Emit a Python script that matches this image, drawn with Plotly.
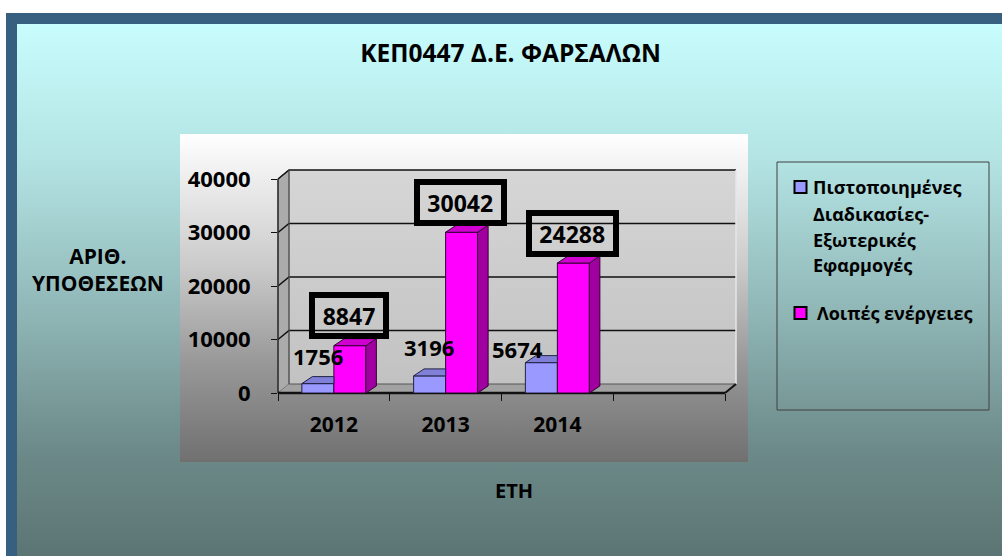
import plotly.graph_objects as go

# ---------------- data ----------------
categories = ["2012", "2013", "2014", ""]
series_names = ["Πιστοποιημένες Διαδικασίες-Εξωτερικές Εφαρμογές", "Λοιπές ενέργειες"]
legend_lines = [["Πιστοποιημένες", "Διαδικασίες-", "Εξωτερικές", "Εφαρμογές"],
                ["Λοιπές ενέργειες"]]
blue_values = [1756, 3196, 5674]
magenta_values = [8847, 30042, 24288]
y_ticks = [0, 10000, 20000, 30000, 40000]
y_tick_labels = ["0", "10000", "20000", "30000", "40000"]
title_text = "ΚΕΠ0447 Δ.Ε. ΦΑΡΣΑΛΩΝ"
y_title = "ΑΡΙΘ.<br>ΥΠΟΘΕΣΕΩΝ"
x_title = "ΕΤΗ"

# ---------------- geometry / style ----------------
W, H = 1002, 556
X0, UX = 278.0, 111.75          # px of x=0, px per category slot
Y0, UY = 393.0, 214.0 / 40000   # px of y=0, px per unit
FONT = "Open Sans"
WALL_DX_PX, WALL_DY_PX = 11.0, 9.0
BAR_DX_PX, BAR_DY_PX = 10.5, 7.0
BAR_W = 32.0 / UX

def dxv(px):
    return (px - X0) / UX

def dyv(px):
    return (Y0 - px) / UY

def fx(px):
    return px / W

def fy(px):
    return 1 - px / H

wdx, wdy = WALL_DX_PX / UX, WALL_DY_PX / UY
bdx, bdy = BAR_DX_PX / UX, BAR_DY_PX / UY
nslots = len(categories)
ymax = y_ticks[-1]

fig = go.Figure()

def poly(xs, ys, fill, line_color=None, lw=0, axes=("x", "y"), grad=None):
    kw = {}
    if grad is not None:
        kw["fillgradient"] = grad
    else:
        kw["fillcolor"] = fill
    fig.add_trace(go.Scatter(
        x=list(xs) + [xs[0]], y=list(ys) + [ys[0]], mode="lines", fill="toself",
        line=dict(color=line_color or "rgba(0,0,0,0)", width=lw),
        hoverinfo="skip", showlegend=False, xaxis=axes[0], yaxis=axes[1], **kw))

def line(xs, ys, color, lw, axes=("x", "y")):
    fig.add_trace(go.Scatter(
        x=xs, y=ys, mode="lines", line=dict(color=color, width=lw),
        hoverinfo="skip", showlegend=False, xaxis=axes[0], yaxis=axes[1]))

def rect_px(l, t, r, b, fill=None, grad=None):
    poly([dxv(l), dxv(r), dxv(r), dxv(l)], [dyv(t), dyv(t), dyv(b), dyv(b)], fill, grad=grad)

# outer frame + backgrounds
rect_px(6, 13, W + 2, H + 2, fill="#365f80")
rect_px(17, 24, W + 2, H + 2, grad=dict(
    type="vertical", start=dyv(H), stop=dyv(24),
    colorscale=[[0, "#5c7574"], [0.2, "#6c8a89"], [0.45, "#8fb5b5"],
                [0.75, "#b4e4e4"], [1, "#c8fdfd"]]))
rect_px(180, 134, 748, 462, grad=dict(
    type="vertical", start=dyv(462), stop=dyv(134),
    colorscale=[[0, "#707070"], [0.3, "#989898"], [0.6, "#cbcbcb"], [1, "#ffffff"]]))

# walls
poly([wdx, nslots + wdx, nslots + wdx, wdx], [wdy, wdy, ymax + wdy, ymax + wdy], None,
     grad=dict(type="vertical", start=wdy, stop=ymax + wdy,
               colorscale=[[0, "#c2c2c2"], [1, "#d6d6d6"]]))
poly([0, wdx, wdx, 0], [0, wdy, ymax + wdy, ymax], "#ababab", "#555555", 1)
poly([0, nslots, nslots + wdx, wdx], [0, 0, wdy, wdy], "#a2a2a2")

# gridlines (back + side wall)
for v in y_ticks[1:]:
    line([0, wdx, nslots + wdx], [v, v + wdy, v + wdy], "#111111", 1.6)
line([wdx, nslots + wdx], [wdy, wdy], "#555555", 1)
line([nslots + wdx, nslots + wdx], [wdy, ymax + wdy], "#e6e6e6", 1.5)
line([wdx, wdx], [wdy, ymax + wdy], "#555555", 1)
line([0, 0], [0, ymax], "#333333", 1.5)
line([nslots, nslots + wdx], [0, wdy], "#111111", 2)
line([0, nslots], [0, 0], "#111111", 2.5)

# bars: front faces as bars, top/side faces as polygons
A2 = ("x2", "y2")
centers = [i + 0.5 for i in range(len(blue_values))]
blue_x = [c - BAR_W / 2 for c in centers]
mag_x = [c + BAR_W / 2 for c in centers]

fig.add_trace(go.Bar(x=blue_x, y=blue_values, width=BAR_W, name=series_names[0],
                     marker=dict(color="#9999ff", line=dict(color="#222244", width=1)),
                     xaxis="x2", yaxis="y2", showlegend=False, hoverinfo="skip"))
fig.add_trace(go.Bar(x=mag_x, y=magenta_values, width=BAR_W, name=series_names[1],
                     marker=dict(color="#ff00ff", line=dict(color="#330033", width=1)),
                     xaxis="x2", yaxis="y2", showlegend=False, hoverinfo="skip"))

for i in range(len(blue_values)):
    hb, hm = blue_values[i], magenta_values[i]
    bl, br = blue_x[i] - BAR_W / 2, blue_x[i] + BAR_W / 2
    ml, mr = mag_x[i] - BAR_W / 2, mag_x[i] + BAR_W / 2
    # blue top (hidden part behind taller magenta bar is clipped)
    if hm >= hb:
        poly([bl, br, br, bl + bdx], [hb, hb, hb + bdy, hb + bdy], "#8080d8", "#222244", 1, A2)
    else:
        poly([bl, br, br + bdx, bl + bdx], [hb, hb, hb + bdy, hb + bdy], "#8080d8", "#222244", 1, A2)
    # magenta side and top
    poly([mr, mr + bdx, mr + bdx, mr], [0, bdy, hm + bdy, hm], "#a000a0", "#330033", 1, A2)
    poly([ml, mr, mr + bdx, ml + bdx], [hm, hm, hm + bdy, hm + bdy], "#d000d0", "#330033", 1, A2)

annotations = []
blue_xshift = [0, -1, -24]
blue_yshift = [28, 29, 14]
for i, v in enumerate(blue_values):
    annotations.append(dict(x=blue_x[i], y=v, xref="x2", yref="y2", text=str(v), showarrow=False,
                            xanchor="center", yanchor="middle",
                            xshift=blue_xshift[i], yshift=blue_yshift[i],
                            font=dict(family=FONT, size=22, color="black", weight="bold")))
for i, v in enumerate(magenta_values):
    t = str(v)
    annotations.append(dict(x=mag_x[i], y=v, xref="x2", yref="y2", text=t, showarrow=False,
                            xanchor="center", yanchor="middle",
                            xshift=-1, yshift=30, bordercolor="black", borderwidth=6, borderpad=0,
                            width=12.5 * len(t) + 18, height=35, bgcolor="rgba(0,0,0,0)",
                            font=dict(family=FONT, size=23, color="black", weight="bold")))

# axis titles
annotations.append(dict(x=fx(98), y=fy(269), xref="paper", yref="paper", text=y_title,
                        showarrow=False, align="center", xanchor="center", yanchor="middle",
                        font=dict(family=FONT, size=21, color="black", weight="bold")))
annotations.append(dict(x=fx(514), y=fy(490), xref="paper", yref="paper", text=x_title,
                        showarrow=False, xanchor="center", yanchor="middle",
                        font=dict(family=FONT, size=20, color="black", weight="bold")))

# legend (manual)
shapes = [dict(type="rect", xref="paper", yref="paper", x0=fx(777), x1=fx(989), y0=fy(162), y1=fy(410),
               line=dict(color="#404040", width=1), fillcolor="rgba(0,0,0,0)")]
leg_colors = ["#9999ff", "#ff00ff"]
leg_y = [[187, 214, 240, 265], [313]]
leg_tx = [811, 815]
for k in range(2):
    yc = leg_y[k][0]
    shapes.append(dict(type="rect", xref="paper", yref="paper", x0=fx(794.5), x1=fx(806.5),
                       y0=fy(yc - 6), y1=fy(yc + 6), fillcolor=leg_colors[k],
                       line=dict(color="black", width=2)))
    for j, txt in enumerate(legend_lines[k]):
        annotations.append(dict(x=fx(leg_tx[k]), y=fy(leg_y[k][j]), xref="paper", yref="paper",
                                text=txt, showarrow=False, xanchor="left", yanchor="middle",
                                font=dict(family=FONT, size=18, color="black", weight="bold")))

hidden = dict(visible=False, showgrid=False, zeroline=False, fixedrange=True)
fig.update_layout(
    width=W, height=H, margin=dict(l=0, r=0, t=0, b=0, autoexpand=False),
    paper_bgcolor="white", plot_bgcolor="rgba(0,0,0,0)",
    barmode="overlay", showlegend=False,
    title=dict(text=title_text, x=fx(510.5), y=fy(53), xanchor="center", yanchor="middle",
               xref="paper", yref="paper",
               font=dict(family=FONT, size=24.5, color="black", weight="bold")),
    xaxis=dict(domain=[0, 1], range=[dxv(0), dxv(W)], **hidden),
    yaxis=dict(domain=[0, 1], range=[dyv(H), dyv(0)], **hidden),
    xaxis2=dict(domain=[fx(X0), fx(748)], range=[0, dxv(748)], anchor="y2",
                showgrid=False, zeroline=False, showline=False, fixedrange=True,
                tickmode="array", tickvals=[i + 0.5 for i in range(nslots)], ticktext=categories,
                ticks="outside", ticklen=7, tickcolor="rgba(0,0,0,0)",
                ticklabelstandoff=6,
                minor=dict(tickmode="array", tickvals=list(range(nslots + 1)), ticks="outside",
                           ticklen=7, tickcolor="#111111", tickwidth=1, showgrid=False),
                tickfont=dict(family=FONT, size=21, color="black", weight="bold")),
    yaxis2=dict(domain=[fy(Y0), fy(134)], range=[0, dyv(134)], anchor="x2",
                showgrid=False, zeroline=False, showline=False, fixedrange=True,
                tickmode="array", tickvals=y_ticks, ticktext=y_tick_labels,
                ticks="outside", ticklen=6,
                tickcolor="#111111", ticklabelstandoff=16,
                tickfont=dict(family=FONT, size=22, color="black", weight="bold")),
    annotations=annotations, shapes=shapes,
)

fig.write_html("out.html", config={"displayModeBar": False, "staticPlot": True},
               post_script="document.body.style.margin='0';document.body.style.overflow='hidden';")
